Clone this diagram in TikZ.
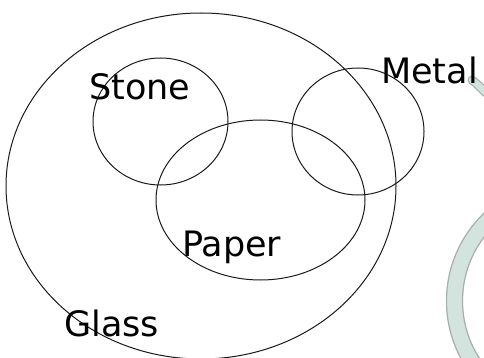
\documentclass[tikz,border=0pt]{standalone}
\usepackage{fontspec}
\setmainfont{DejaVu Sans}
\definecolor{ringfill}{HTML}{D3E4DF}
\definecolor{ringedge}{HTML}{A8B0AE}
\definecolor{linec}{HTML}{1A1A1A}
\begin{document}
\begin{tikzpicture}[x=1pt,y=-1pt,
  set/.style={draw=linec,line width=1pt},
  lbl/.style={anchor=base west,inner sep=0pt,font=\fontsize{35}{42}\selectfont,text=black}]
\useasboundingbox (0,0) rectangle (484,358);
\begin{scope}
\clip (0,0) rectangle (484,358);
% watermark ring
\fill[ringfill,even odd rule] (568,301) circle[radius=122] (568,301) circle[radius=105];
\draw[ringedge,line width=1.2pt] (568,301) circle[radius=121.5];
\draw[ringedge,line width=1.2pt] (568,301) circle[radius=105.5];
\draw[ringedge,line width=9pt,line cap=round] (472,80) .. controls (477,84) .. (486,93);
\draw[ringfill,line width=6.5pt,line cap=round] (472,80) .. controls (477,84) .. (486,93);
% sets
\draw[set] (201,186) ellipse[x radius=195,y radius=173];
\draw[set] (160.5,121.5) ellipse[x radius=67.5,y radius=63.5];
\draw[set] (260.5,200) ellipse[x radius=104.5,y radius=80];
\draw[set] (358,131.5) ellipse[x radius=66,y radius=63.5];
\end{scope}
\node[lbl] (stone) at (89,100) {Stone};
\node[lbl] (metal) at (381,84) {Metal};
\node[lbl] (paper) at (182,256) {Paper};
\node[lbl] (glass) at (64,336) {Glass};
\end{tikzpicture}
\end{document}
